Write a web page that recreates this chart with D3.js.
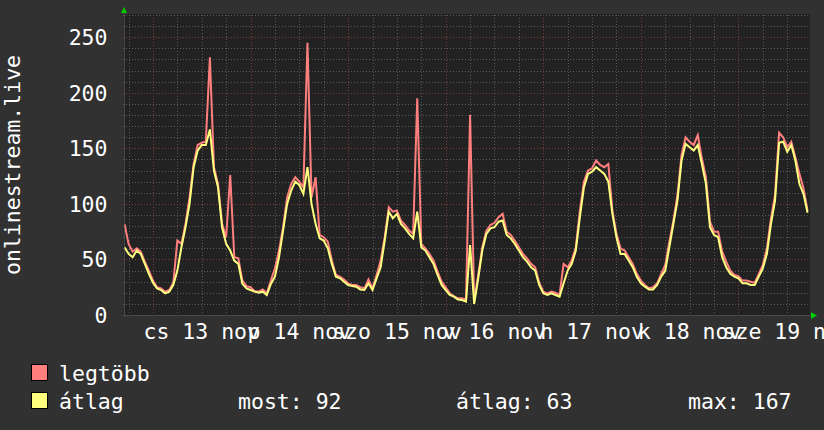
<!DOCTYPE html>
<html>
<head>
<meta charset="utf-8">
<script src="https://cdn.jsdelivr.net/npm/d3@7/dist/d3.min.js"></script>
<style>
  html, body { margin: 0; padding: 0; background: #313131; }
  svg { display: block; }
  text { font-family: "DejaVu Sans Mono", monospace; fill: #ffffff; }
</style>
</head>
<body>
<svg id="chart" width="824" height="430"></svg>
<script>
// ---- data (hourly samples, first sample at 2014-11-12 17:00) ----
const firstSample = new Date(2014, 10, 12, 17, 0);
const endTime = new Date(2014, 10, 19, 17, 36);

const maxValues = [
  82, 64, 57, 60, 57, 48, 40,
  31, 25, 24, 21, 22.5, 29, 67, 64, 82, 106, 136, 153, 155, 156, 232, 133, 118, 82, 70, 126, 52, 51, 31, 26,
  25, 21.5, 21, 23, 19.5, 31, 42, 58, 79, 106, 118, 124, 120, 115, 245, 106, 124, 72, 70, 66, 49, 36, 34.5, 32,
  28.5, 27, 27, 25, 24, 32, 24, 36, 49, 70, 97, 93, 94, 85, 81, 76, 73, 195, 64, 60, 55, 49, 39, 30,
  25, 19.5, 17, 15, 15, 14, 180, 13, 36, 61, 76, 81, 83, 88, 91, 75, 72, 67, 61, 55, 51, 46, 43, 29,
  21, 19.5, 21, 20, 18, 46, 43, 49, 61, 94, 120, 130, 132, 139, 135, 133, 136, 94, 73, 60, 58, 52, 46, 37,
  31, 27, 24, 25, 28.5, 37, 45, 66, 85, 108, 144, 160, 156, 153, 162, 141, 124, 84, 75, 75, 57, 48, 40, 36,
  35, 31, 31, 30, 29, 37, 45, 60, 87, 108, 164, 160, 151, 156, 142, 127, 114, 94
];

const avgValues = [
  61, 55, 52, 58, 55, 46, 37,
  29, 24, 22.5, 19.5, 21, 27, 40, 61, 79, 100, 133, 148, 153, 153, 167, 130, 115, 79, 64, 58, 49, 46, 28, 24,
  22.5, 21, 20, 21, 18, 28, 34.5, 52, 76, 100, 112, 120, 117, 109, 133, 100, 82, 69, 67, 60, 46, 34.5, 33, 30,
  27, 26, 25.5, 23, 22.5, 28.5, 22.5, 33, 43, 67, 93, 87, 91, 82, 78, 73, 69, 93, 61, 58, 52, 46, 36, 27,
  22.5, 18, 16.5, 14, 13.5, 12, 63, 10, 33, 58, 73, 78, 79, 84, 85, 72, 69, 64, 58, 52, 48, 43, 40, 27,
  19.5, 18, 19.5, 18, 16.5, 28.5, 40, 46, 58, 88, 115, 127, 129, 133, 130, 127, 120, 91, 70, 55, 55, 49, 43, 34.5,
  28.5, 25.5, 23, 23, 27, 34.5, 40, 61, 82, 103, 139, 154, 151, 148, 153, 136, 118, 79, 72, 70, 52, 43, 37, 34.5,
  33, 28.5, 28.5, 27, 27, 34.5, 42, 55, 82, 103, 155, 156, 147, 153, 139, 118, 109, 92
];

const yTickValues = [0, 50, 100, 150, 200, 250];
const seriesNames = ["legtöbb", "átlag"];
const seriesColors = ["#ff7f7f", "#ffff7f"];
const statLabels = ["most: 92", "átlag: 63", "max: 167"];
const axisTitle = "onlinestream.live";

// ---- layout ----
const svg = d3.select("#chart");
const W = 824, H = 430;
const FS = 21.5;
const plot = { left: 124.5, right: 810, top: 15, bottom: 315 };

svg.append("rect").attr("width", W).attr("height", H).attr("fill", "#313131");

const x = d3.scaleTime().domain([firstSample, endTime]).range([plot.left, plot.right]);
const y = d3.scaleLinear().domain([0, 270]).range([plot.bottom, plot.top]);

svg.append("rect")
  .attr("x", plot.left - 1).attr("y", plot.top - 1)
  .attr("width", plot.right - plot.left + 1).attr("height", plot.bottom - plot.top + 1)
  .attr("fill", "#222222");

const huLocale = d3.timeFormatLocale({
  dateTime: "%Y. %B %-e. %X", date: "%Y. %m. %d.", time: "%H:%M:%S",
  periods: ["de.", "du."],
  days: ["vasárnap", "hétfő", "kedd", "szerda", "csütörtök", "péntek", "szombat"],
  shortDays: ["v", "h", "k", "sze", "cs", "p", "szo"],
  months: ["január", "február", "március", "április", "május", "június", "július", "augusztus", "szeptember", "október", "november", "december"],
  shortMonths: ["jan", "febr", "márc", "ápr", "máj", "jún", "júl", "aug", "szept", "okt", "nov", "dec"]
});
const fmt = huLocale.format("%a %d %b");

const grid = svg.append("g").attr("shape-rendering", "crispEdges");

// horizontal minor grid (every 10)
const yMinor = d3.range(0, 271, 10).filter(v => v % 50 !== 0);
grid.selectAll(".hmin").data(yMinor).join("line")
  .attr("x1", plot.left - 2).attr("x2", plot.right)
  .attr("y1", d => Math.round(y(d)) + 0.5).attr("y2", d => Math.round(y(d)) + 0.5)
  .attr("stroke", "#5a5a5a").attr("stroke-dasharray", "1,2");

// vertical minor grid (every 6h)
const xMinor = x.ticks(d3.timeHour.every(6)).filter(d => d.getHours() !== 0);
grid.selectAll(".vmin").data(xMinor).join("line")
  .attr("x1", d => Math.round(x(d)) + 0.5).attr("x2", d => Math.round(x(d)) + 0.5)
  .attr("y1", plot.top).attr("y2", plot.bottom + 2)
  .attr("stroke", "#5a5a5a").attr("stroke-dasharray", "1,2");

// major grids
grid.selectAll(".hmaj").data(yTickValues.filter(v => v > 0)).join("line")
  .attr("x1", plot.left - 2).attr("x2", plot.right)
  .attr("y1", d => Math.round(y(d)) + 0.5).attr("y2", d => Math.round(y(d)) + 0.5)
  .attr("stroke", "#7a3a3a").attr("stroke-dasharray", "1,2");

const xMajor = x.ticks(d3.timeDay.every(1));
grid.selectAll(".vmaj").data(xMajor).join("line")
  .attr("x1", d => Math.round(x(d)) + 0.5).attr("x2", d => Math.round(x(d)) + 0.5)
  .attr("y1", plot.top).attr("y2", plot.bottom + 3)
  .attr("stroke", "#7a3a3a").attr("stroke-dasharray", "1,2");

// axes lines
grid.append("line").attr("x1", plot.left - 2).attr("x2", plot.right + 2)
  .attr("y1", plot.bottom + 0.5).attr("y2", plot.bottom + 0.5).attr("stroke", "#4a4a4a");
grid.append("line").attr("x1", plot.left - 0.5).attr("x2", plot.left - 0.5)
  .attr("y1", plot.top - 3).attr("y2", plot.bottom + 2).attr("stroke", "#4a4a4a");

// arrows
svg.append("path").attr("d", `M${plot.left - 3.5},${plot.top - 2} L${plot.left + 2.5},${plot.top - 2} L${plot.left - 0.5},${plot.top - 8} Z`)
  .attr("fill", "#00cc00");
svg.append("path").attr("d", `M${plot.right + 1},${plot.bottom - 3} L${plot.right + 1},${plot.bottom + 4} L${plot.right + 7},${plot.bottom + 0.5} Z`)
  .attr("fill", "#00cc00");

// y labels
svg.selectAll(".ylab").data(yTickValues).join("text")
  .attr("x", 107.5).attr("y", d => y(d)).attr("dy", "0.36em")
  .attr("text-anchor", "end").attr("font-size", FS).text(d => d);

// x labels (noon of each day)
const noons = x.ticks(d3.timeHour.every(12)).filter(d => d.getHours() === 12);
svg.selectAll(".xlab").data(noons).join("text")
  .attr("x", d => x(d)).attr("y", 338.5).attr("text-anchor", "middle")
  .attr("font-size", FS).text(d => fmt(d));

// axis title
svg.append("text").attr("transform", "translate(20,165) rotate(-90)")
  .attr("text-anchor", "middle").attr("font-size", FS).text(axisTitle);

// series
const timeAt = i => d3.timeHour.offset(firstSample, i);
const line = d3.line().x((d, i) => x(timeAt(i))).y(d => y(d)).curve(d3.curveLinear);

svg.append("defs").append("clipPath").attr("id", "pc")
  .append("rect").attr("x", plot.left).attr("y", 0).attr("width", plot.right - plot.left).attr("height", plot.bottom + 1);

const series = svg.append("g").attr("clip-path", "url(#pc)");
[maxValues, avgValues].forEach((vals, k) => {
  series.append("path").datum(vals).attr("d", line)
    .attr("fill", "none").attr("stroke", seriesColors[k]).attr("stroke-width", 2)
    .attr("stroke-linejoin", "miter");
});

// legend
const legendRows = [373, 401];
seriesNames.forEach((name, k) => {
  svg.append("rect").attr("x", 31.5).attr("y", legendRows[k] - 8.5).attr("width", 16).attr("height", 16)
    .attr("fill", seriesColors[k]).attr("stroke", "#000").attr("stroke-width", 1);
  svg.append("text").attr("x", 59).attr("y", legendRows[k] + 8).attr("font-size", FS).text(name);
});
const statX = [238, 456, 688];
statLabels.forEach((s, k) => {
  svg.append("text").attr("x", statX[k]).attr("y", 409).attr("font-size", FS).text(s);
});
</script>
</body>
</html>
